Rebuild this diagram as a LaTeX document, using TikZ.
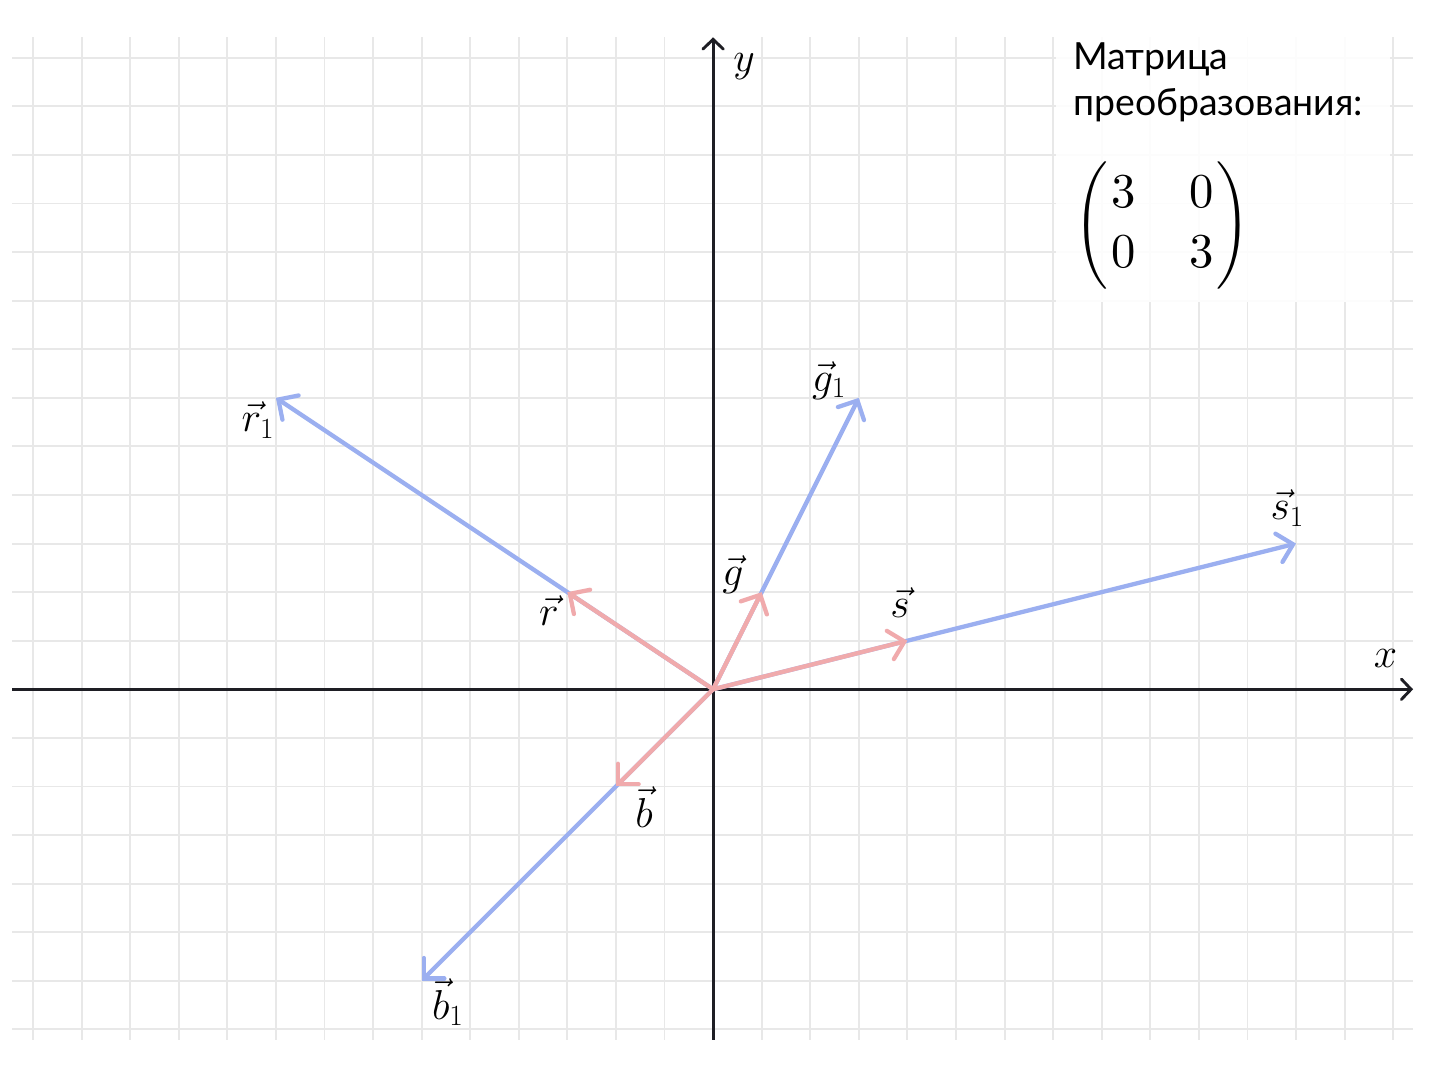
\RequirePackage{fix-cm}
\documentclass[tikz,border=0pt]{standalone}
\usepackage{fontspec}
\usepackage{amsmath}
\newfontfamily\legendfont{Lato}
\newfontfamily\lmten{lmroman10-regular.otf}
\usetikzlibrary{arrows.meta}
\definecolor{vblue}{RGB}{155,175,240}
\definecolor{vpink}{RGB}{240,170,172}
\definecolor{gridgray}{RGB}{232,232,232}
\definecolor{axisblack}{RGB}{30,30,36}
\newcommand{\dg}[1]{\hbox{\lmten #1}}
\begin{document}
\begin{tikzpicture}[x=1cm,y=1cm,
  gridline/.style={draw=gridgray, line width=1.1pt},
  axisline/.style={draw=axisblack, line width=1.7pt, -{Straight Barb[length=0.2cm,width=0.42cm,line cap=round]}},
  vecline/.style={line width=2.5pt, line cap=round, -{Straight Barb[length=0.3cm,width=0.6cm,line cap=round]}},
  bluevec/.style={vecline, draw=vblue},
  pinkvec/.style={vecline, draw=vpink},
  lbl/.style={font=\fontsize{24.5}{29}\selectfont, inner sep=0pt},
  legtext/.style={font=\legendfont\fontsize{21.9}{26}\selectfont, inner sep=0pt, anchor=base west}
]
\useasboundingbox (-14.68,-8.13) rectangle (15.17,14.19);
% grid
\foreach \y in {-7,...,13} \draw[gridline] (-14.43,\y) -- (14.41,\y);
\foreach \x in {-14,...,14} \draw[gridline] (\x,-7.21) -- (\x,13.42);
% legend box
\fill[white, fill opacity=0.9] (7.06,7.97) rectangle (13.94,13.7);
\node[legtext] (t1) at (7.41,12.76) {Матрица};
\node[legtext] (t2) at (7.41,11.82) {преобразования:};
\node[anchor=west, inner sep=0pt, font=\fontsize{28.5}{35}\selectfont] (M) at (7.44,9.54)
  {$\left(\begin{array}{@{\hspace{2pt}}c@{\hspace{31pt}}c@{\hspace{2pt}}}\dg{3}&\dg{0}\\\dg{0}&\dg{3}\end{array}\right)$};
% axes
\coordinate (xs) at (-14.43,0);
\coordinate (xe) at (14.41,0);
\coordinate (ys) at (0,-7.21);
\coordinate (ye) at (0,13.42);
\draw[axisline] (xs) -- (xe);
\draw[axisline] (ys) -- (ye);
\node[lbl] (xl) at (13.84,0.64) {$x$};
\node[lbl] (yl) at (0.64,12.82) {$y$};
% vectors
\coordinate (O) at (0,0);
\coordinate (s) at (4,1);
\coordinate (s1) at (12,3);
\coordinate (g) at (1,2);
\coordinate (g1) at (3,6);
\coordinate (r) at (-3,2);
\coordinate (r1) at (-9,6);
\coordinate (b) at (-2,-2);
\coordinate (b1) at (-6,-6);
\draw[bluevec] (O) -- (s1);
\draw[bluevec] (O) -- (g1);
\draw[bluevec] (O) -- (r1);
\draw[bluevec] (O) -- (b1);
\draw[pinkvec] (O) -- (s);
\draw[pinkvec] (O) -- (g);
\draw[pinkvec] (O) -- (r);
\draw[pinkvec] (O) -- (b);
% labels
\node[lbl] (ls1) at (11.82,3.73) {$\vec{s}_1$};
\node[lbl] (ls) at (3.85,1.79) {$\vec{s}$};
\node[lbl] (lg1) at (2.39,6.36) {$\vec{g}_1$};
\node[lbl] (lg) at (0.41,2.37) {$\vec{g}$};
\node[lbl] (lr1) at (-9.37,5.54) {$\vec{r}_1$};
\node[lbl] (lr) at (-3.38,1.63) {$\vec{r}$};
\node[lbl] (lb) at (-1.42,-2.42) {$\vec{b}$};
\node[lbl] (lb1) at (-5.46,-6.44) {$\vec{b}_1$};
\end{tikzpicture}
\end{document}
